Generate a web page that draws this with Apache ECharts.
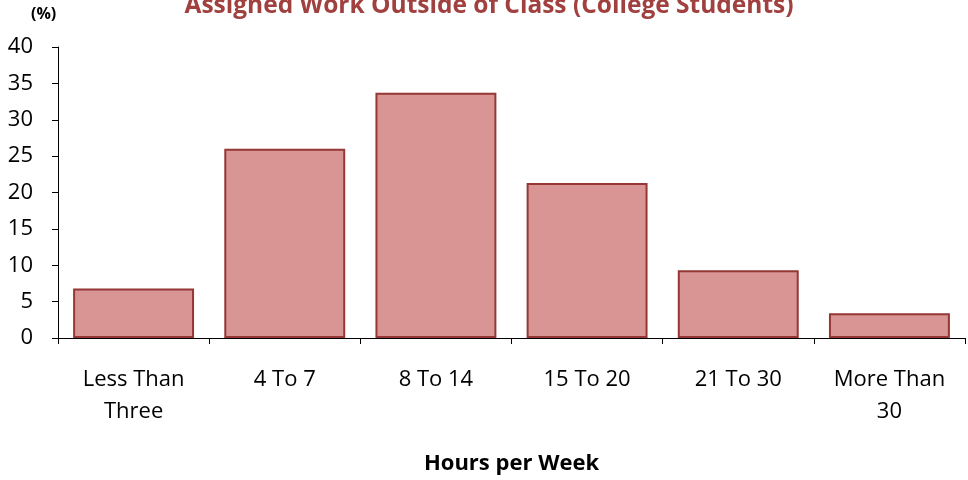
<!DOCTYPE html>
<html><head><meta charset="utf-8">
<script src="https://cdn.jsdelivr.net/npm/echarts@6/dist/echarts.min.js"></script>
<style>html,body{margin:0;padding:0;background:#fff}#c{width:968px;height:480px}</style>
</head><body><div id="c"></div>
<script>
const categories = ['Less Than\nThree', '4 To 7', '8 To 14', '15 To 20', '21 To 30', 'More Than\n30'];
const values = [6.8, 26.0, 33.7, 21.3, 9.3, 3.4];
const yTicks = [0, 5, 10, 15, 20, 25, 30, 35, 40];

const chart = echarts.init(document.getElementById('c'), null, {renderer: 'canvas'});
const FONT = '"Open Sans", "Liberation Sans", sans-serif';
chart.setOption({
  animation: false,
  backgroundColor: '#fff',
  title: {
    text: 'Assigned Work Outside of Class (College Students)',
    left: 484, top: -11, textAlign: 'center',
    textStyle: {color: '#A0403F', fontWeight: 'bold', fontSize: 24.5, fontFamily: FONT}
  },
  graphic: [{
    type: 'text', left: 31, top: 6,
    style: {text: '(%)', font: 'bold 16px ' + FONT, fill: '#000'}
  }],
  grid: {left: 58, right: 3, top: 47, bottom: 139},
  xAxis: {
    type: 'category', data: categories,
    name: 'Hours per Week', nameLocation: 'middle', nameGap: 115,
    nameTextStyle: {fontWeight: 'bold', fontSize: 22, color: '#000', fontFamily: FONT},
    axisLine: {lineStyle: {color: '#000', width: 1}},
    axisTick: {show: true, length: 6, alignWithLabel: false, lineStyle: {color: '#000'}},
    axisLabel: {color: '#000', fontSize: 22, fontFamily: FONT, margin: 26, lineHeight: 32}
  },
  yAxis: {
    type: 'value', min: yTicks[0], max: yTicks[yTicks.length - 1], interval: 5,
    axisLine: {show: true, lineStyle: {color: '#000', width: 1}},
    axisTick: {show: true, length: 6, lineStyle: {color: '#000'}},
    splitLine: {show: false},
    axisLabel: {color: '#000', fontSize: 22, fontFamily: FONT, margin: 25}
  },
  series: [{
    type: 'bar', data: values, barCategoryGap: '20%',
    itemStyle: {color: '#D99594', borderColor: '#953735', borderWidth: 2}
  }]
});
</script></body></html>
